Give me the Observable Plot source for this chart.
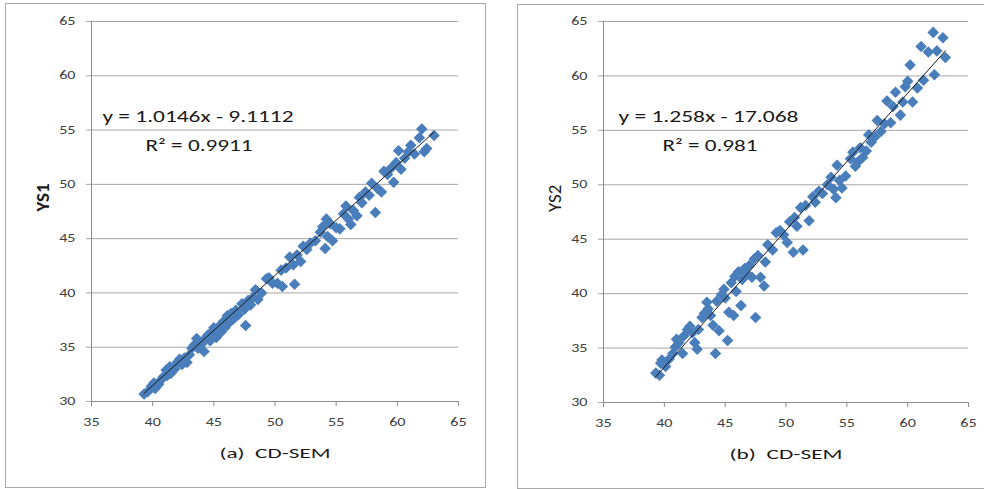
<!DOCTYPE html>
<html>
<head>
<meta charset="utf-8">
<script src="https://cdn.jsdelivr.net/npm/d3@7"></script>
<script src="https://cdn.jsdelivr.net/npm/@observablehq/plot@0.6"></script>
<style>
  html, body { margin: 0; padding: 0; background: #fff; overflow: hidden; }
  #page { position: relative; width: 984px; height: 489px; overflow: hidden; font-family: Carlito, Lato, sans-serif; }
  .box { position: absolute; border: 1px solid #a9a9a9; box-sizing: border-box; }
  .panel { position: absolute; }
  .panel svg { display: block; overflow: visible; }
</style>
</head>
<body>
<div id="page">
  <div class="box" style="left:5px;top:3px;width:481px;height:485px;"></div>
  <div class="box" style="left:517px;top:4px;width:480px;height:485px;"></div>
  <div class="panel" id="pa" style="left:5px;top:3px;"></div>
  <div class="panel" id="pb" style="left:517px;top:4px;"></div>
</div>
<script>
// ---- Data ----
const xTicks = [35, 40, 45, 50, 55, 60, 65];
const yTicks = [30, 35, 40, 45, 50, 55, 60, 65];

// Panel (a): CD-SEM vs YS1
const cdA = [39.3,39.6,39.9,40.1,40.2,40.5,40.7,40.9,41.1,41.2,41.4,41.5,41.8,42.0,42.2,42.4,42.6,42.8,43.0,43.2,43.4,43.6,43.7,44.0,44.2,44.3,44.5,44.7,44.9,45.0,45.2,45.3,45.5,45.6,45.8,45.9,46.1,46.2,46.4,46.6,46.8,47.0,47.3,47.5,47.6,47.8,48.0,48.2,48.4,48.6,48.9,49.3,49.5,49.8,50.2,50.5,50.6,50.9,51.2,51.5,51.6,51.8,52.1,52.3,52.6,52.9,53.3,53.7,53.9,54.1,54.2,54.3,54.5,54.7,55.0,55.3,55.6,55.8,56.0,56.2,56.4,56.7,56.9,57.1,57.4,57.7,57.9,58.2,58.4,58.7,58.9,59.2,59.5,59.7,59.9,60.1,60.3,60.6,60.9,61.1,61.4,61.8,62.0,62.2,62.4,63.0];
const ys1 = [30.7,30.9,31.4,31.7,31.2,31.6,32.0,32.3,32.9,32.4,33.2,32.6,33.0,33.6,33.9,33.4,34.0,33.6,34.3,34.9,35.2,35.8,34.9,35.3,34.6,35.8,36.1,35.6,36.5,36.8,35.9,36.3,37.0,36.4,37.4,36.8,37.9,37.2,38.1,37.6,38.4,38.0,39.0,38.5,37.0,39.3,38.9,39.6,40.3,39.4,40.0,41.3,41.4,40.9,40.9,42.1,40.6,42.3,43.3,42.6,40.8,43.5,42.9,44.3,44.0,44.6,44.8,45.6,46.1,44.1,46.8,45.2,46.4,44.8,46.0,45.9,47.3,48.0,46.8,46.3,47.6,47.1,48.8,48.3,49.3,49.0,50.1,47.4,49.6,49.3,51.2,50.9,51.5,50.2,52.0,53.1,51.4,52.4,53.0,53.6,52.8,54.3,55.1,53.0,53.3,54.5];
const fitA = {slope: 1.0146, intercept: -9.1112};
const eqA = "y = 1.0146x - 9.1112";
const r2A = "R\u00b2 = 0.9911";
const labelXA = "(a)\u00a0\u00a0CD-SEM";
const labelYA = "YS1";

// Panel (b): CD-SEM vs YS2
const cdB = [39.3,39.6,39.7,39.8,40.1,40.4,40.7,40.9,41.0,41.2,41.5,41.6,41.9,42.1,42.3,42.5,42.7,42.8,43.1,43.3,43.5,43.6,43.8,44.0,44.2,44.3,44.5,44.7,44.9,45.0,45.2,45.3,45.5,45.7,45.8,45.9,46.1,46.3,46.4,46.6,46.8,47.0,47.2,47.4,47.5,47.7,47.9,48.2,48.3,48.5,48.9,49.2,49.5,49.8,50.1,50.3,50.6,50.7,50.9,51.2,51.4,51.6,51.9,52.2,52.4,52.7,53.0,53.4,53.7,53.9,54.1,54.2,54.4,54.6,54.9,55.3,55.5,55.7,55.9,56.1,56.3,56.6,56.8,57.0,57.3,57.5,57.8,58.1,58.3,58.6,58.8,59.0,59.4,59.6,59.8,60.0,60.2,60.4,60.8,61.1,61.3,61.7,62.1,62.2,62.4,62.9,63.1];
const ys2 = [32.7,32.5,33.6,33.9,33.3,34.0,34.5,35.1,35.8,35.5,34.5,36.1,36.7,37.0,36.4,35.5,34.9,36.7,37.8,38.2,39.2,38.6,38.0,37.1,34.5,39.3,36.6,39.9,40.4,39.6,35.7,38.3,41.0,38.0,41.6,40.2,42.0,38.9,41.3,42.3,41.8,42.6,41.5,43.2,37.8,43.5,41.5,40.7,42.9,44.5,44.0,45.6,45.8,45.4,44.7,46.6,43.8,47.0,46.2,47.9,44.0,48.1,46.7,48.9,48.4,49.4,49.2,50.0,50.7,49.6,48.8,51.8,50.4,49.7,50.8,52.4,53.0,51.7,52.1,53.4,52.5,53.1,54.6,53.9,54.4,55.9,54.9,55.6,57.7,55.7,57.2,58.5,56.4,57.6,59.0,59.5,61.0,57.6,58.9,62.7,59.6,62.2,64.0,60.1,62.3,63.5,61.7];
const fitB = {slope: 1.258, intercept: -17.068};
const eqB = "y = 1.258x - 17.068";
const r2B = "R\u00b2 = 0.981";
const labelXB = "(b)\u00a0\u00a0CD-SEM";
const labelYB = "YS2";

// horizontal text widths seen in the reference (the picture is stretched sideways)
const textWidths = {[eqA]: 191, [r2A]: 107, [eqB]: 180, [r2B]: 95, [labelXA]: 111, [labelXB]: 113};
const tickStretch = 1.4;

function panel({xs, ys, fit, eq, r2, labelX, labelY, width, height, margins, eqPos, r2Pos, labelYWeight}) {
  const pts = xs.map((x, i) => ({x, y: ys[i]}));
  const [xmin, xmax] = d3.extent(xs);
  const trend = [xmin, xmax].map(x => ({x, y: fit.slope * x + fit.intercept}));
  const gridColor = "#a6a6a6";
  const axisColor = "#8c8c8c";
  return Plot.plot({
    width, height,
    marginLeft: margins[0], marginRight: margins[1], marginTop: margins[2], marginBottom: margins[3],
    style: {fontFamily: "Carlito, Lato, sans-serif", background: "transparent", overflow: "visible"},
    x: {domain: [35, 65]},
    y: {domain: [30, 65]},
    marks: [
      Plot.ruleY(yTicks, {y: d => d, x1: 35, x2: 65, stroke: gridColor, strokeWidth: 1}),
      Plot.axisY(yTicks, {tickSize: 5, tickPadding: 11, stroke: gridColor, fontSize: 11.5, fill: "#404040", label: null, tickFormat: d => d}),
      Plot.axisX(xTicks, {tickSize: 5, tickPadding: 11, stroke: axisColor, fontSize: 11.5, fill: "#404040", label: null, tickFormat: d => d}),
      Plot.ruleX([35], {stroke: axisColor, strokeWidth: 1}),
      Plot.ruleY([30], {stroke: axisColor, strokeWidth: 1}),
      Plot.dot(pts, {x: "x", y: "y", symbol: "diamond2", r: 5.2, fill: "#4a7ebb", stroke: "none"}),
      Plot.line(trend, {x: "x", y: "y", stroke: "#1a1a1a", strokeWidth: 1}),
      Plot.text([eq], {frameAnchor: "top-left", text: d => d, textAnchor: "start", lineAnchor: "middle", dx: eqPos[0], dy: eqPos[1], fontSize: 16, fill: "#1a1a1a"}),
      Plot.text([r2], {frameAnchor: "top-left", text: d => d, textAnchor: "start", lineAnchor: "middle", dx: r2Pos[0], dy: r2Pos[1], fontSize: 16, fill: "#1a1a1a"}),
      Plot.text([labelX], {frameAnchor: "bottom", text: d => d, lineAnchor: "middle", dy: 52, fontSize: 15, fill: "#1a1a1a"}),
      Plot.text([labelY], {frameAnchor: "left", text: d => d, rotate: -90, dx: -49, fontSize: 19, fontWeight: labelYWeight, fill: "#1a1a1a"})
    ]
  });
}

function stretchTexts(svg) {
  svg.querySelectorAll("text").forEach(t => {
    const tr = t.getAttribute("transform") || "";
    if (tr.includes("rotate")) return;
    const content = t.textContent;
    const L = t.getComputedTextLength();
    if (!L) return;
    const target = textWidths[content] != null ? textWidths[content] : L * tickStretch;
    t.setAttribute("textLength", target);
    t.setAttribute("lengthAdjust", "spacingAndGlyphs");
  });
}

const svgA = panel({
  xs: cdA, ys: ys1, fit: fitA, eq: eqA, r2: r2A, labelX: labelXA, labelY: labelYA,
  width: 480, height: 484, margins: [86, 27, 18, 86],
  eqPos: [11, 95], r2Pos: [54, 124], labelYWeight: "bold"
});
const svgB = panel({
  xs: cdB, ys: ys2, fit: fitB, eq: eqB, r2: r2B, labelX: labelXB, labelY: labelYB,
  width: 467, height: 484, margins: [86, 16, 17, 86],
  eqPos: [15, 95], r2Pos: [59, 124], labelYWeight: "normal"
});
document.getElementById("pa").appendChild(svgA);
document.getElementById("pb").appendChild(svgB);
stretchTexts(svgA);
stretchTexts(svgB);
</script>
</body>
</html>
